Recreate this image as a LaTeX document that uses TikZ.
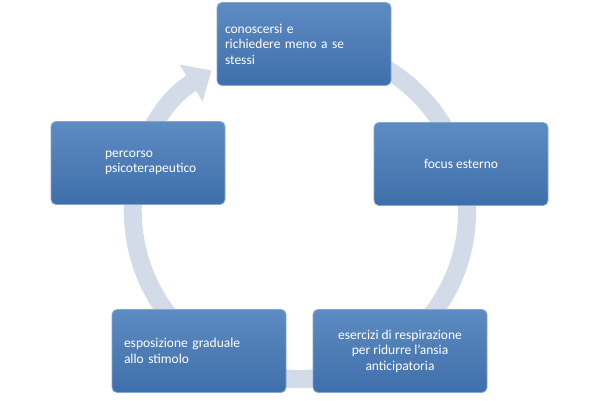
\documentclass[tikz,border=0pt]{standalone}
\usepackage{fontspec}
\setmainfont{Carlito}
\usetikzlibrary{arrows.meta}
\definecolor{bx}{HTML}{4F81BD}
\definecolor{bxd}{HTML}{3F6FAA}
\definecolor{ring}{HTML}{D3DBE9}
\begin{document}
\begin{tikzpicture}[x=1pt,y=-1pt,
  box/.style={draw=bx!70!white,line width=0.8pt,rounded corners=5pt,top color=bx!92!white,bottom color=bxd,
    minimum width=174pt,minimum height=83pt,text=white,font=\fontsize{13.5}{15.5}\selectfont,inner sep=8pt}]
\useasboundingbox (0,0) rectangle (600,400);
\fill[white] (0,0) rectangle (600,400);
\coordinate (c) at (300,212);
\draw[ring,line width=18pt,-{Triangle[width=42pt,length=24pt]}] ([shift={(-468:167)}]c) arc[start angle=-468,end angle=-122,radius=167];
\node[box,align=left,text width=158pt] (a) at (304,44) {conoscersi e\\richiedere meno a se\\stessi};
\node[box,align=center] (b) at (461,164) {focus esterno};
\node[box,align=center] (c2) at (400,351) {esercizi di respirazione\\per ridurre l'ansia\\anticipatoria};
\node[box,align=left,text width=158pt] (d) at (199,351) {\hspace*{4pt}esposizione graduale\\\hspace*{4pt}allo stimolo};
\node[box,align=left,text width=158pt] (e) at (138,163) {\hspace*{46pt}percorso\\\hspace*{46pt}psicoterapeutico};
\end{tikzpicture}
\end{document}
